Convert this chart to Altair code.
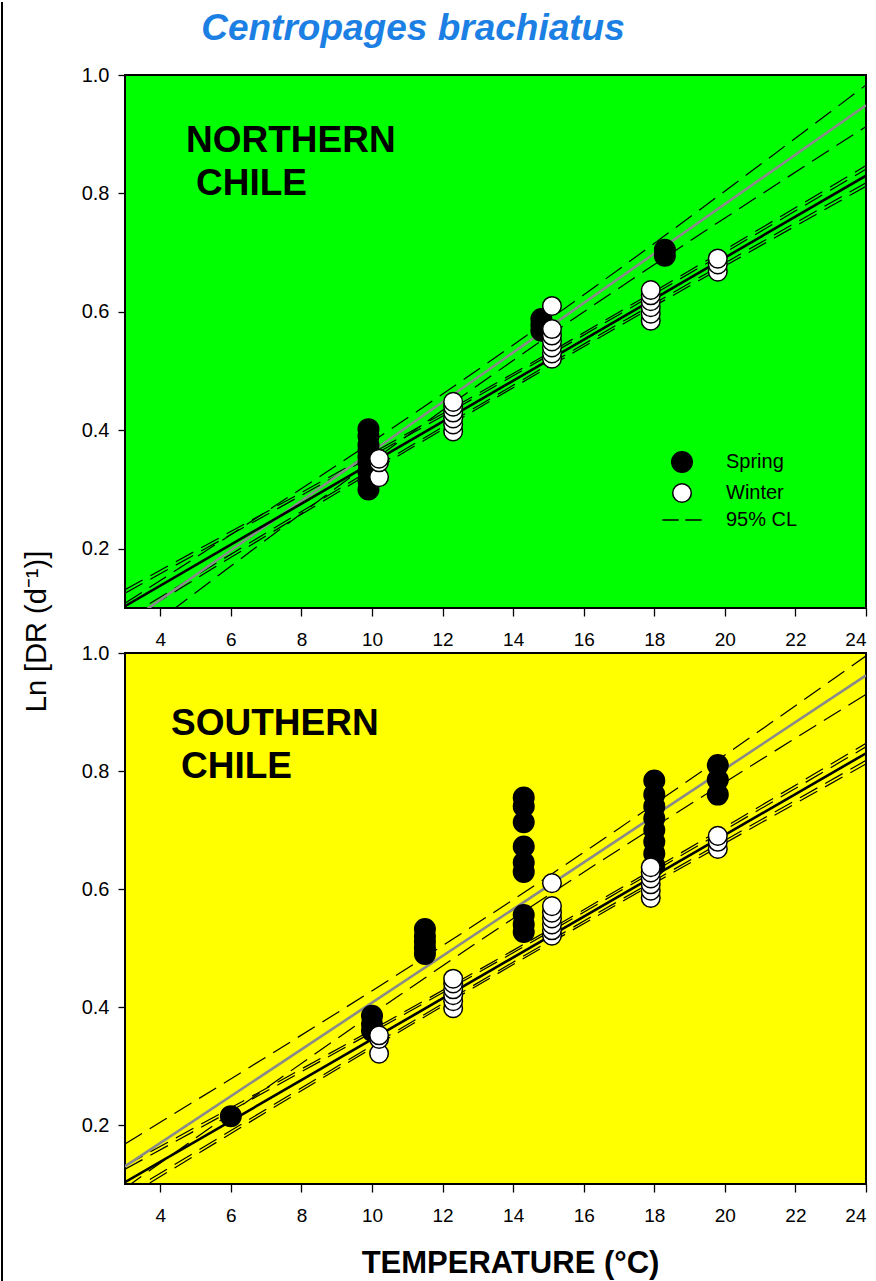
import altair as alt
import pandas as pd

FONT = "Liberation Sans"

# ---- axis ticks ----
temp_ticks = [4, 6, 8, 10, 12, 14, 16, 18, 20, 22, 24]
ln_ticks = [0.2, 0.4, 0.6, 0.8, 1.0]

# ---- observations: temperature (°C) and Ln development rate ----
north_spring_temp = [9.9] * 9 + [14.8] * 3 + [18.3] * 2
north_spring_ln = [0.300, 0.315, 0.330, 0.345, 0.355, 0.365, 0.375, 0.390, 0.402,
                   0.568, 0.578, 0.588,
                   0.695, 0.705]

south_spring_temp = [6.0] + [10.0] * 3 + [11.5] * 5 + [14.3] * 9 + [18.0] * 8 + [19.8] * 3
south_spring_ln = [0.215,
                   0.360, 0.372, 0.385,
                   0.490, 0.500, 0.510, 0.520, 0.532,
                   0.527, 0.540, 0.556, 0.629, 0.645, 0.672, 0.713, 0.740, 0.755,
                   0.640, 0.660, 0.680, 0.700, 0.720, 0.740, 0.760, 0.784,
                   0.760, 0.785, 0.810]

winter_temp = [10.2] * 3 + [12.3] * 6 + [15.1] * 7 + [17.9] * 6 + [19.8] * 3
winter_ln = [0.321, 0.346, 0.352,
             0.398, 0.410, 0.420, 0.430, 0.440, 0.448,
             0.521, 0.530, 0.540, 0.550, 0.560, 0.571, 0.610,
             0.585, 0.597, 0.608, 0.618, 0.628, 0.637,
             0.668, 0.680, 0.690]

# ---- regression lines (end points at 3 and 24 °C) ----
fit_temp = [3, 24]
north_spring_fit = [0.072, 0.949]
south_spring_fit = [0.130, 0.962]
winter_fit = [0.103, 0.830]

# ---- 95 % confidence limits at 3, 14 and 24 °C ----
cl_temp = [3, 14, 24]
north_spring_cl_hi = [0.108, 0.544, 0.983]
north_spring_cl_lo = [0.036, 0.518, 0.913]
south_spring_cl_hi = [0.168, 0.582, 0.995]
south_spring_cl_lo = [0.093, 0.550, 0.930]
winter_cl_hi = [0.125, 0.492, 0.841]
winter_cl_hi2 = [0.131, 0.496, 0.847]
winter_cl_lo = [0.082, 0.476, 0.818]
winter_cl_lo2 = [0.076, 0.472, 0.812]

SERIES = ["Spring", "Winter", "95% CL"]
CL_SYMBOL = "M-2.4,0H-0.4M0.4,0H2.4"

PLOT_W = 741


def points_df(temp, ln, series):
    return pd.DataFrame({"T": temp, "Ln": ln, "Series": series})


def lines_df(xs, named):
    rows = []
    for name, kind, ys in named:
        for x, y in zip(xs, ys):
            rows.append({"T": x, "Ln": y, "line": name, "kind": kind})
    return pd.DataFrame(rows)


def x_enc(show_title):
    axis = alt.Axis(values=temp_ticks, grid=False, domain=False, tickSize=8,
                    tickWidth=1.3, tickColor="black", labelPadding=14,
                    labelFontSize=19, labelFont=FONT, labelColor="black",
                    title="TEMPERATURE (°C)" if show_title else None,
                    titleFont=FONT, titleFontSize=31, titleFontWeight="bold",
                    titleColor="black", titleX=385, titleY=79,
                    titleAlign="center", titleBaseline="middle")
    return alt.X("T:Q", scale=alt.Scale(domain=[3, 24], nice=False, zero=False), axis=axis)


def y_enc(show_title):
    axis = alt.Axis(values=ln_ticks, format=".1f", grid=False, domain=False,
                    tickSize=7, tickWidth=1.3, tickColor="black", labelPadding=9,
                    labelFontSize=20, labelFont=FONT, labelColor="black",
                    title="Ln [DR (d⁻¹)]" if show_title else None,
                    titleFont=FONT, titleFontSize=29, titleFontWeight="normal",
                    titleColor="black", titleX=-89, titleY=556, titleAngle=-90,
                    titleAlign="center", titleBaseline="middle")
    return alt.Y("Ln:Q", scale=alt.Scale(domain=[0.1, 1.0], nice=False, zero=False), axis=axis)


def panel(spring_temp, spring_ln, spring_fit, spring_hi, spring_lo,
          region, bg, height, top):
    xe = x_enc(not top)
    ye = y_enc(top)

    if top:
        legend = alt.Legend(title=None, orient="none", legendX=546, legendY=376,
                            padding=0, labelFont=FONT, labelFontSize=20,
                            labelColor="black", labelOffset=33, rowPadding=4.5,
                            symbolStrokeWidth=1.5, symbolOpacity=1)
    else:
        legend = None

    fill = alt.Fill("Series:N", scale=alt.Scale(domain=SERIES, range=["black", "white", "transparent"]), legend=legend)
    stroke = alt.Stroke("Series:N", scale=alt.Scale(domain=SERIES, range=["black", "black", "black"]), legend=legend)
    shape = alt.Shape("Series:N", scale=alt.Scale(domain=SERIES, range=["circle", "circle", CL_SYMBOL]), legend=legend)
    size = alt.Size("Series:N", scale=alt.Scale(domain=SERIES, range=[420, 270, 420]), legend=legend)

    fits = lines_df(fit_temp, [("spring_fit", "spring", spring_fit),
                               ("winter_fit", "winter", winter_fit)])
    cls = lines_df(cl_temp, [("s_hi", "cl", spring_hi), ("s_lo", "cl", spring_lo),
                             ("w_hi", "cl", winter_cl_hi), ("w_hi2", "cl", winter_cl_hi2),
                             ("w_lo", "cl", winter_cl_lo), ("w_lo2", "cl", winter_cl_lo2)])

    cl_layer = alt.Chart(cls).mark_line(
        color="black", strokeWidth=1.2, strokeDash=[20, 9], clip=True, interpolate="monotone"
    ).encode(x=xe, y=ye, detail="line:N")

    fit_layer = alt.Chart(fits).mark_line(strokeWidth=2.6, clip=True).encode(
        x=xe, y=ye, detail="line:N",
        color=alt.Color("kind:N", scale=alt.Scale(domain=["spring", "winter"], range=["#8a8a8a", "black"]), legend=None),
    )

    def pts(temp, ln, name):
        return alt.Chart(points_df(temp, ln, [name] * len(temp))).mark_point(
            filled=True, strokeWidth=1.5, opacity=1
        ).encode(x=xe, y=ye, fill=fill, stroke=stroke, shape=shape, size=size)

    spring_pts = pts(spring_temp, spring_ln, "Spring")
    winter_pts = pts(winter_temp, winter_ln, "Winter")

    label_df = pd.DataFrame({"line1": [region], "line2": ["CHILE"]})
    label_y = 66 if top else 71
    label_x = 61 if top else 46
    label1 = alt.Chart(label_df).mark_text(
        font=FONT, fontSize=37, fontWeight="bold", color="black", align="left", baseline="middle"
    ).encode(x=alt.value(label_x), y=alt.value(label_y), text="line1:N")
    label2 = alt.Chart(label_df).mark_text(
        font=FONT, fontSize=37, fontWeight="bold", color="black", align="left", baseline="middle"
    ).encode(x=alt.value(label_x + 10), y=alt.value(label_y + 43), text="line2:N")

    layers = [cl_layer, fit_layer, spring_pts, winter_pts, label1, label2]

    if top:
        title_df = pd.DataFrame({"t": ["Centropages brachiatus"]})
        title = alt.Chart(title_df).mark_text(
            font=FONT, fontSize=37, fontStyle="italic", fontWeight="bold",
            color="#1b7fe3", align="center", baseline="middle"
        ).encode(x=alt.value(288), y=alt.value(-46), text="t:N")
        edge = alt.Chart(pd.DataFrame({"e": [0]})).mark_rule(color="black", strokeWidth=2).encode(
            x=alt.value(-123), y=alt.value(-73), y2=alt.value(1206)
        )
        layers += [title, edge]

    return alt.layer(*layers).properties(
        width=PLOT_W, height=height,
        view=alt.ViewBackground(fill=bg, stroke="black", strokeWidth=2),
    )


north = panel(north_spring_temp, north_spring_ln, north_spring_fit,
              north_spring_cl_hi, north_spring_cl_lo, "NORTHERN", "#00ff00", 533, True)
south = panel(south_spring_temp, south_spring_ln, south_spring_fit,
              south_spring_cl_hi, south_spring_cl_lo, "SOUTHERN", "#ffff00", 531, False)

chart = alt.vconcat(north, south, spacing=45, bounds="flush").resolve_scale(
    fill="independent", stroke="independent", shape="independent",
    size="independent", color="independent"
).resolve_legend(
    fill="independent", stroke="independent", shape="independent",
    size="independent", color="independent"
).properties(
    padding={"left": 0, "top": 0, "right": 0, "bottom": 0},
    background="white",
)

chart.save("out.html", embed_options={"renderer": "svg", "actions": False})
